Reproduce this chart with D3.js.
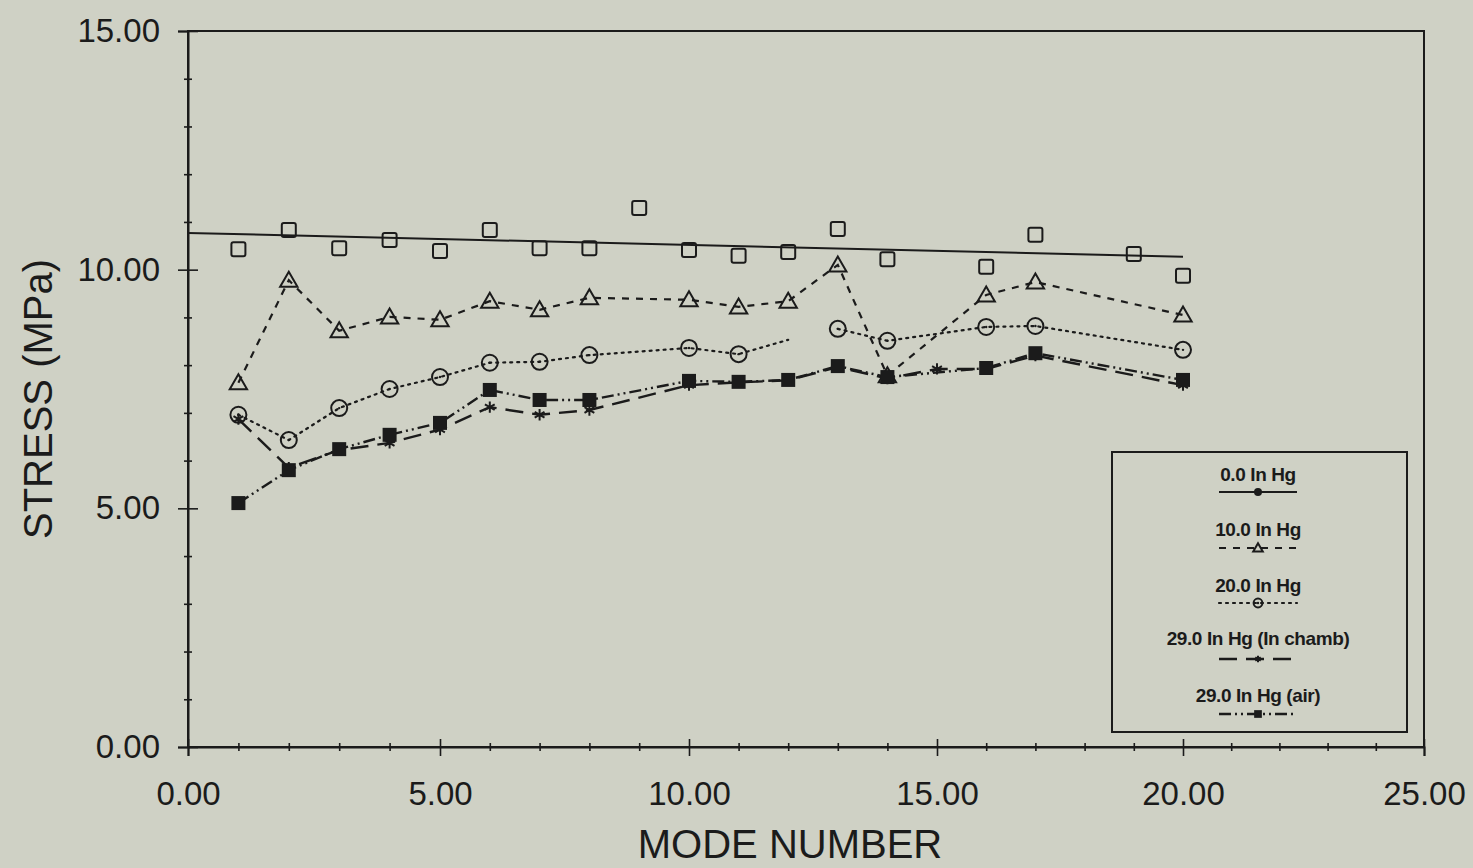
<!DOCTYPE html>
<html>
<head>
<meta charset="utf-8">
<script src="https://cdn.jsdelivr.net/npm/d3@7"></script>
<style>
  body { margin: 0; background: #cfd1c5; }
  svg { display: block; font-family: "Liberation Sans", Arial, sans-serif; }
</style>
</head>
<body>
<svg id="chart" width="1473" height="868"></svg>
<script>
// 0.0 in Hg: open squares + straight fit line
const modes0 = [1, 2, 3, 4, 5, 6, 7, 8, 9, 10, 11, 12, 13, 14, 16, 17, 19, 20];
const stress0 = [10.43, 10.83, 10.45, 10.62, 10.39, 10.83, 10.45, 10.45, 11.29, 10.41, 10.29, 10.37, 10.85, 10.22, 10.06, 10.73, 10.33, 9.87];
const fitModes = [0, 20];
const fitStress = [10.77, 10.27];

// 10.0 in Hg
const modes10 = [1, 2, 3, 4, 5, 6, 7, 8, 10, 11, 12, 13, 14, 16, 17, 20];
const stress10 = [7.63, 9.78, 8.72, 9.01, 8.95, 9.34, 9.16, 9.41, 9.37, 9.22, 9.34, 10.10, 7.78, 9.47, 9.74, 9.05];

// 20.0 in Hg (no marker at mode 12, line broken after it)
const modes20 = [1, 2, 3, 4, 5, 6, 7, 8, 10, 11, 12, 13, 14, 16, 17, 20];
const stress20 = [6.96, 6.43, 7.10, 7.50, 7.75, 8.05, 8.07, 8.21, 8.36, 8.23, 8.53, 8.76, 8.51, 8.80, 8.82, 8.32];
const gapAfter20 = 12;

// 29.0 in Hg (in chamb)
const modesChamb = [1, 2, 3, 4, 5, 6, 7, 8, 10, 11, 12, 13, 14, 15, 16, 17, 20];
const stressChamb = [6.87, 5.85, 6.22, 6.37, 6.65, 7.12, 6.96, 7.06, 7.58, 7.64, 7.68, 7.96, 7.72, 7.92, 7.92, 8.20, 7.58];

// 29.0 in Hg (air)
const modesAir = [1, 2, 3, 4, 5, 6, 7, 8, 10, 11, 12, 13, 14, 16, 17, 20];
const stressAir = [5.11, 5.80, 6.24, 6.54, 6.79, 7.48, 7.27, 7.27, 7.67, 7.65, 7.69, 7.98, 7.75, 7.94, 8.25, 7.69];

const xTicks = [0, 5, 10, 15, 20, 25];
const yTicks = [0, 5, 10, 15];
const legendLabels = ["0.0 In Hg", "10.0 In Hg", "20.0 In Hg", "29.0 In Hg (In chamb)", "29.0 In Hg (air)"];

const ink = "#1b1b1b";

const svg = d3.select("#chart");
// the scanned axis is slightly uneven, so the x scale follows its major ticks
const x = d3.scaleLinear().domain(xTicks).range([188, 440, 689, 937, 1183, 1424]);
const y = d3.scaleLinear().domain([0, 15]).range([747, 31]);

// frame
svg.append("rect")
    .attr("x", x(0)).attr("y", y(15))
    .attr("width", x(25) - x(0)).attr("height", y(0) - y(15))
    .attr("fill", "none").attr("stroke", ink).attr("stroke-width", 2);

// y axis
const yAxis = svg.append("g").attr("transform", `translate(${x(0)},0)`)
    .call(d3.axisLeft(y).tickValues(yTicks).tickSize(10).tickPadding(18).tickFormat(d3.format(".2f")));
yAxis.selectAll(".tick line").attr("x1", 10);
svg.append("g").attr("transform", `translate(${x(0)},0)`)
    .call(d3.axisLeft(y).tickValues(d3.range(0, 16).filter((d) => d % 5 !== 0)).tickSize(4).tickFormat(""))
    .call((g) => g.select(".domain").remove())
    .selectAll(".tick line").attr("x1", 4);

// x axis
const xAxis = svg.append("g").attr("transform", `translate(0,${y(0)})`)
    .call(d3.axisBottom(x).tickValues(xTicks).tickSize(9).tickPadding(26).tickFormat(d3.format(".2f")));
xAxis.selectAll(".tick line").attr("y1", -8);
svg.append("g").attr("transform", `translate(0,${y(0)})`)
    .call(d3.axisBottom(x).tickValues(d3.range(0, 26).filter((d) => d % 5 !== 0)).tickSize(4).tickFormat(""))
    .call((g) => g.select(".domain").remove())
    .selectAll(".tick line").attr("y1", -4);

svg.selectAll(".domain").attr("stroke", ink).attr("stroke-width", 2);
svg.selectAll(".tick line").attr("stroke", ink).attr("stroke-width", 1.6);
svg.selectAll(".tick text").attr("fill", ink).attr("font-size", 33).attr("font-family", "Liberation Sans, Arial, sans-serif");

// axis titles
svg.append("text").attr("x", 790).attr("y", 858).attr("text-anchor", "middle")
    .attr("font-size", 40).attr("fill", ink).text("MODE NUMBER");
svg.append("text").attr("transform", "translate(52,399) rotate(-90)").attr("text-anchor", "middle")
    .attr("font-size", 40).attr("fill", ink).text("STRESS (MPa)");

const line = d3.line().x((d) => x(d[0])).y((d) => y(d[1]));
const pairs = (xs, ys) => xs.map((v, i) => [v, ys[i]]);

const styles = [
    { dash: null, width: 2 },
    { dash: "7,7", width: 2.2 },
    { dash: "2,5", width: 2.2 },
    { dash: "18,9", width: 2.4 },
    { dash: "12,4,2,4,2,4", width: 2.4 }
];

// lines
svg.append("path").attr("d", line(pairs(fitModes, fitStress)))
    .attr("fill", "none").attr("stroke", ink).attr("stroke-width", styles[0].width);
svg.append("path").attr("d", line(pairs(modes10, stress10)))
    .attr("fill", "none").attr("stroke", ink).attr("stroke-width", styles[1].width).attr("stroke-dasharray", styles[1].dash);
const pts20 = pairs(modes20, stress20);
[pts20.filter((d) => d[0] <= gapAfter20), pts20.filter((d) => d[0] > gapAfter20)].forEach((seg) => {
    svg.append("path").attr("d", line(seg))
        .attr("fill", "none").attr("stroke", ink).attr("stroke-width", styles[2].width)
        .attr("stroke-dasharray", styles[2].dash).attr("stroke-linecap", "round");
});
svg.append("path").attr("d", line(pairs(modesChamb, stressChamb)))
    .attr("fill", "none").attr("stroke", ink).attr("stroke-width", styles[3].width).attr("stroke-dasharray", styles[3].dash);
svg.append("path").attr("d", line(pairs(modesAir, stressAir)))
    .attr("fill", "none").attr("stroke", ink).attr("stroke-width", styles[4].width).attr("stroke-dasharray", styles[4].dash);

// markers
function marker(g, kind, scale) {
    const s = scale || 1;
    if (kind === 0) {
        g.append("rect").attr("x", -7 * s).attr("y", -7 * s).attr("width", 14 * s).attr("height", 14 * s).attr("rx", 2 * s)
            .attr("fill", "none").attr("stroke", ink).attr("stroke-width", 2);
    } else if (kind === 1) {
        g.append("path").attr("d", d3.symbol(d3.symbolTriangle, 130 * s * s)())
            .attr("transform", `translate(0,${1.5 * s})`)
            .attr("fill", "none").attr("stroke", ink).attr("stroke-width", 2);
    } else if (kind === 2) {
        g.append("circle").attr("r", 8 * s).attr("fill", "none").attr("stroke", ink).attr("stroke-width", 2);
        g.append("circle").attr("r", 1.2).attr("fill", ink);
    } else if (kind === 3) {
        g.append("path").attr("d", d3.symbol(d3.symbolAsterisk, 90 * s * s)())
            .attr("fill", "none").attr("stroke", ink).attr("stroke-width", 2);
    } else {
        g.append("rect").attr("x", -7 * s).attr("y", -7 * s).attr("width", 14 * s).attr("height", 14 * s)
            .attr("fill", ink);
    }
}

function drawMarkers(xs, ys, kind, skip) {
    svg.append("g").selectAll("g")
        .data(pairs(xs, ys).filter((d) => !(skip || []).includes(d[0])))
        .join("g")
        .attr("transform", (d) => `translate(${x(d[0])},${y(d[1])})`)
        .each(function () { marker(d3.select(this), kind); });
}

drawMarkers(modes0, stress0, 0);
drawMarkers(modes10, stress10, 1);
drawMarkers(modes20, stress20, 2, [gapAfter20]);
drawMarkers(modesChamb, stressChamb, 3);
drawMarkers(modesAir, stressAir, 4);

// legend
svg.append("rect").attr("x", 1112).attr("y", 452).attr("width", 295).attr("height", 280)
    .attr("fill", "none").attr("stroke", ink).attr("stroke-width", 2);
const legendText = [481, 536, 592, 645, 702];
const legendLine = [492, 548, 603, 659, 714];
legendLabels.forEach((label, i) => {
    svg.append("text").attr("x", 1258).attr("y", legendText[i]).attr("text-anchor", "middle")
        .attr("font-size", 19).attr("font-weight", "bold").attr("letter-spacing", "-0.4px")
        .attr("fill", ink).text(label);
    svg.append("line").attr("x1", 1219).attr("x2", 1297).attr("y1", legendLine[i]).attr("y2", legendLine[i])
        .attr("stroke", ink).attr("stroke-width", styles[i].width)
        .attr("stroke-dasharray", styles[i].dash).attr("stroke-linecap", i === 2 ? "round" : "butt");
    const m = svg.append("g").attr("transform", `translate(1258,${legendLine[i]})`);
    if (i === 0) {
        m.append("circle").attr("r", 4).attr("fill", ink);
    } else {
        marker(m, i, 0.55);
    }
});
</script>
</body>
</html>
